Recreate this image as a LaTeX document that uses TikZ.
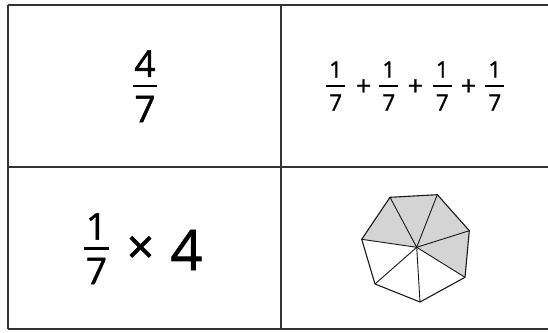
\documentclass[tikz,border=0pt]{standalone}
\usepackage{fontspec}
\setmainfont{Open Sans}[FakeBold=1.2]
\begin{document}
\begin{tikzpicture}[x=1pt,y=-1pt,
  grid/.style={draw=black!80,line width=1.6pt},
  bigdig/.style={inner sep=0pt,font=\fontsize{37}{40}\selectfont},
  smalldig/.style={inner sep=0pt,font=\fontsize{22.5}{24}\selectfont},
  plussign/.style={inner sep=0pt,font=\fontsize{27}{30}\selectfont},
  timessign/.style={inner sep=0pt,font=\fontsize{48}{50}\selectfont},
  hugedig/.style={inner sep=0pt,font=\fontsize{56}{60}\selectfont},
  fbar/.style={line width=2.6pt,black},
  sbar/.style={line width=2pt,black},
  shade/.style={fill=black!17,draw=none},
  edge/.style={draw=black!90,line width=1.1pt,line join=round}]
\useasboundingbox (0,0) rectangle (548,332);
\fill[white] (0,0) rectangle (548,332);
% grid
\draw[grid] (8,5) -- (548,5);
\draw[grid] (8,166.7) -- (548,166.7);
\draw[grid] (8,329) -- (548,329);
\draw[grid] (8,5) -- (8,329);
\draw[grid] (281,5) -- (281,329);
% top-left 4/7
\node[bigdig] (n47) at (145,63.7) {4};
\node[bigdig] (d47) at (145,109) {7};
\draw[fbar] (133,86) -- (157,86);
% top-right sum
\foreach \i/\x in {1/335.7,2/388.8,3/442.3,4/494.8}{
  \node[smalldig] (sn\i) at (\x,69.5) {1};
  \node[smalldig] (sd\i) at (\x,102.5) {7};
  \draw[sbar] (\x-9.5,86) -- (\x+9.5,86);
}
\foreach \i/\x in {1/363.6,2/415.4,3/468.5}{
  \node[plussign] (pl\i) at (\x,87.3) {+};
}
% bottom-left 1/7 x 4
\node[bigdig] (bn) at (96.5,226.5) {1};
\node[bigdig] (bd) at (96.5,271) {7};
\draw[fbar] (84,248.3) -- (109,248.3);
\node[timessign] (times) at (140.5,250) {×};
\node[hugedig] (four) at (186.5,250) {4};
% heptagon
\coordinate (c) at (416.7,247.3);
\coordinate (v1) at (390,197.3);
\coordinate (v2) at (437.3,194.7);
\coordinate (v3) at (469.3,230.7);
\coordinate (v4) at (465,277.3);
\coordinate (v5) at (420,302);
\coordinate (v6) at (375,284);
\coordinate (v7) at (361.7,239.3);
\fill[shade] (c) -- (v7) -- (v1) -- (v2) -- (v3) -- (v4) -- cycle;
\draw[edge] (v1) -- (v2) -- (v3) -- (v4) -- (v5) -- (v6) -- (v7) -- cycle;
\foreach \v in {v1,v2,v3,v4,v5,v6,v7}{\draw[edge,line width=0.9pt] (c) -- (\v);}
\end{tikzpicture}
\end{document}
